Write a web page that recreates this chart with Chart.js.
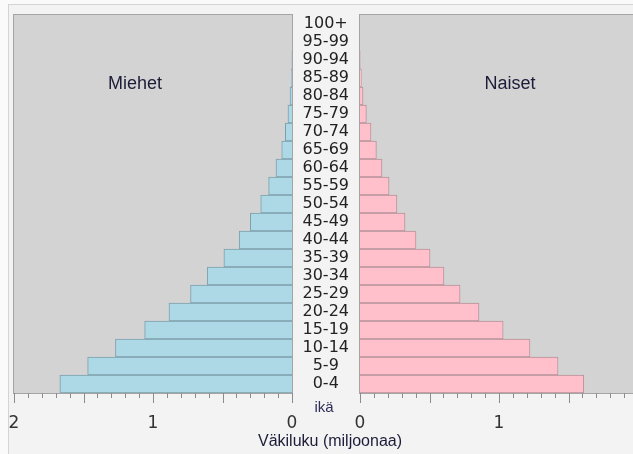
<!DOCTYPE html>
<html>
<head>
<meta charset="utf-8">
<script src="https://cdn.jsdelivr.net/npm/chart.js@4/dist/chart.umd.min.js"></script>
<style>
  html, body { margin: 0; padding: 0; overflow: hidden; background: #fafafa; }
  #frame { position: absolute; left: 8px; top: 4px; width: 700px; height: 500px;
           border: 1px solid #d4d4d4; background: #f3f3f3; }
  canvas { position: absolute; top: 0; }
  #cL { left: 0; }
  #cR { left: 292px; }
  .lbl { position: absolute; font-family: "Liberation Sans", Arial, sans-serif; color: #1c1c38;
         transform: translateX(-50%); white-space: nowrap; }
</style>
</head>
<body>
<div id="frame"></div>
<canvas id="cL" width="300" height="454" style="width:300px;height:454px"></canvas>
<canvas id="cR" width="352" height="454" style="width:352px;height:454px"></canvas>
<div class="lbl" style="left:135px;top:73px;font-size:18px">Miehet</div>
<div class="lbl" style="left:510px;top:73px;font-size:18px">Naiset</div>
<div class="lbl" style="left:324px;top:398px;font-size:15px;color:#2e2e5a">ikä</div>
<div class="lbl" style="left:330px;top:432px;font-size:16px">Väkiluku (miljoonaa)</div>
<script>
// age groups, bottom to top
var ages = ['0-4','5-9','10-14','15-19','20-24','25-29','30-34','35-39','40-44','45-49',
            '50-54','55-59','60-64','65-69','70-74','75-79','80-84','85-89','90-94','95-99','100+'];
// population, millions
var men   = [1.67,1.47,1.27,1.06,0.885,0.73,0.61,0.49,0.38,0.30,
             0.225,0.168,0.115,0.074,0.048,0.029,0.014,0.005,0.001,0,0];
var women = [1.61,1.425,1.223,1.03,0.856,0.72,0.604,0.504,0.403,0.324,
             0.266,0.209,0.158,0.118,0.079,0.046,0.022,0.01,0.002,0,0];
var xMax = 2;

// grey plot box + tick marks under it
var plotBox = {
  id: 'plotBox',
  beforeDatasetsDraw: function(chart){
    var a = chart.chartArea, ctx = chart.ctx;
    ctx.save();
    ctx.fillStyle = '#d3d3d3';
    ctx.fillRect(a.left, a.top, a.right - a.left, a.bottom - a.top);
    ctx.restore();
  },
  afterDraw: function(chart){
    var a = chart.chartArea, ctx = chart.ctx, sx = chart.scales.x;
    ctx.save();
    ctx.strokeStyle = '#a4a4a4';
    ctx.lineWidth = 1;
    ctx.strokeRect(a.left - 0.5, a.top - 0.5, a.right - a.left + 1, a.bottom - a.top + 1);
    ctx.strokeStyle = '#8c8c8c';
    sx.ticks.forEach(function(t, i){
      var px = Math.round(sx.getPixelForTick(i)) + 0.5;
      var big = Math.abs(t.value * 2 - Math.round(t.value * 2)) < 1e-6;
      ctx.beginPath();
      ctx.moveTo(px, a.bottom);
      ctx.lineTo(px, a.bottom + (big ? 10 : 5));
      ctx.stroke();
    });
    ctx.restore();
  }
};

function xScale(rev){
  return {
    type: 'linear', min: 0, max: xMax, reverse: rev,
    grid: { display: false, drawTicks: false },
    border: { display: false },
    ticks: {
      stepSize: 0.1, maxTicksLimit: 100, autoSkip: false, maxRotation: 0, padding: 20,
      color: '#333', font: { family: 'DejaVu Sans', size: 17 },
      callback: function(v){ return Math.abs(v - Math.round(v)) < 1e-6 ? Math.round(v) : ''; }
    },
    afterFit: function(s){ s.height = 61; s.paddingLeft = 0; s.paddingRight = 0; }
  };
}

function common(){
  return {
    indexAxis: 'y', responsive: false, animation: false,
    plugins: { legend: { display: false }, tooltip: { enabled: false } }
  };
}

var optL = common();
optL.layout = { padding: { left: 14, right: 8, top: 15, bottom: 0 } };
optL.scales = { x: xScale(true), y: { type: 'category', reverse: true, display: false } };

new Chart(document.getElementById('cL'), {
  type: 'bar',
  data: { labels: ages, datasets: [{ label: 'Miehet', data: men,
    backgroundColor: '#add8e6', borderColor: '#7f9fab', borderWidth: 1,
    barPercentage: 1, categoryPercentage: 1 }] },
  options: optL,
  plugins: [plotBox]
});

var optR = common();
optR.layout = { padding: { left: 0, right: 6, top: 15, bottom: 0 } };
optR.scales = {
  x: xScale(false),
  y: {
    type: 'category', reverse: true, position: 'left',
    grid: { display: false, drawTicks: true, tickLength: 8, tickColor: 'rgba(0,0,0,0)' },
    border: { display: false },
    ticks: { crossAlign: 'center', autoSkip: false, color: '#222',
             font: { family: 'DejaVu Sans', size: 16 } },
    afterFit: function(s){ s.width = 68; }
  }
};

new Chart(document.getElementById('cR'), {
  type: 'bar',
  data: { labels: ages, datasets: [{ label: 'Naiset', data: women,
    backgroundColor: '#ffc0cb', borderColor: '#b6939a', borderWidth: 1,
    barPercentage: 1, categoryPercentage: 1 }] },
  options: optR,
  plugins: [plotBox]
});
</script>
</body>
</html>
